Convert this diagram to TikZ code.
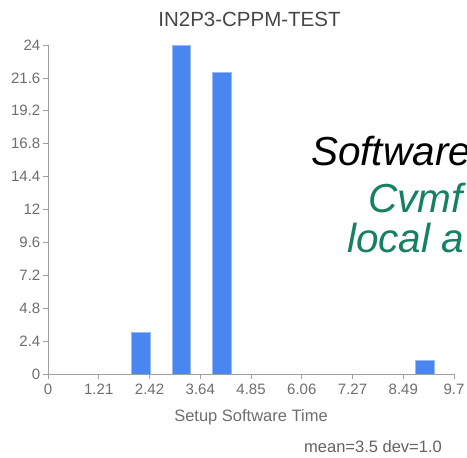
\documentclass[tikz,border=0pt]{standalone}
\usepackage{fontspec}
\setmainfont{Liberation Sans}
\definecolor{barblue}{RGB}{74,134,240}
\definecolor{baredge}{RGB}{150,186,250}
\definecolor{axisgray}{RGB}{160,160,160}
\definecolor{labelgray}{RGB}{110,110,110}
\definecolor{titlegray}{RGB}{70,70,70}
\definecolor{notegreen}{RGB}{22,128,98}
\begin{document}
\begin{tikzpicture}[x=1pt,y=-1pt,
  bar/.style={fill=barblue,draw=baredge,line width=0.7pt},
  axisline/.style={draw=axisgray,line width=0.8pt},
  ticklab/.style={text=labelgray,font=\fontsize{15}{18}\selectfont,inner sep=0pt},
  note/.style={font=\fontsize{40.5}{46}\selectfont\itshape,inner sep=0pt,anchor=base west}]
\clip (0,0) rectangle (467,458);
\fill[white] (0,0) rectangle (467,458);

% title
\node[text=titlegray,font=\fontsize{20.5}{24}\selectfont] (title) at (249.5,19) {IN2P3-CPPM-TEST};

% bars
\draw[bar] (131,374) rectangle (150,332.8);
\draw[bar] (172,374) rectangle (190.5,45);
\draw[bar] (212.5,374) rectangle (231,72.3);
\draw[bar] (415,374) rectangle (434,360.3);

% axes
\coordinate (origin) at (48,374);
\coordinate (ytop) at (48,45);
\coordinate (xend) at (454,374);
\draw[axisline] (ytop) -- (origin) -- (xend);

% y ticks and labels
\foreach \v [count=\i from 0] in {0,2.4,4.8,7.2,9.6,12,14.4,16.8,19.2,21.6,24}{
  \pgfmathsetmacro{\yy}{374-\i*32.9}
  \draw[axisline] (43,\yy) -- (48,\yy);
  \node[ticklab,anchor=east] (yl\i) at (40.5,\yy) {\v};
}

% x ticks and labels
\foreach \v/\p [count=\i from 0] in {0/0,1.21/1.2125,2.42/2.425,3.64/3.6375,4.85/4.85,6.06/6.0625,7.27/7.275,8.49/8.4875,9.7/9.7}{
  \pgfmathsetmacro{\xx}{48+\p*41.86}
  \draw[axisline] (\xx,374) -- (\xx,379);
  \node[ticklab] (xl\i) at (\xx,389) {\v};
}

% axis title and summary
\node[text=labelgray,font=\fontsize{16.5}{20}\selectfont] (xtitle) at (251,417) {Setup Software Time};
\node[text=titlegray!85,font=\fontsize{16.5}{20}\selectfont] (stats) at (373,447) {mean=3.5 dev=1.0};

% overlaid notes, running off the right edge
\node[note,text=black] (sw) at (311,165) {Software};
\node[note,text=notegreen] (cv) at (368,212) {Cvmf};
\node[note,text=notegreen] (loc) at (347,252) {local a};
\end{tikzpicture}
\end{document}
